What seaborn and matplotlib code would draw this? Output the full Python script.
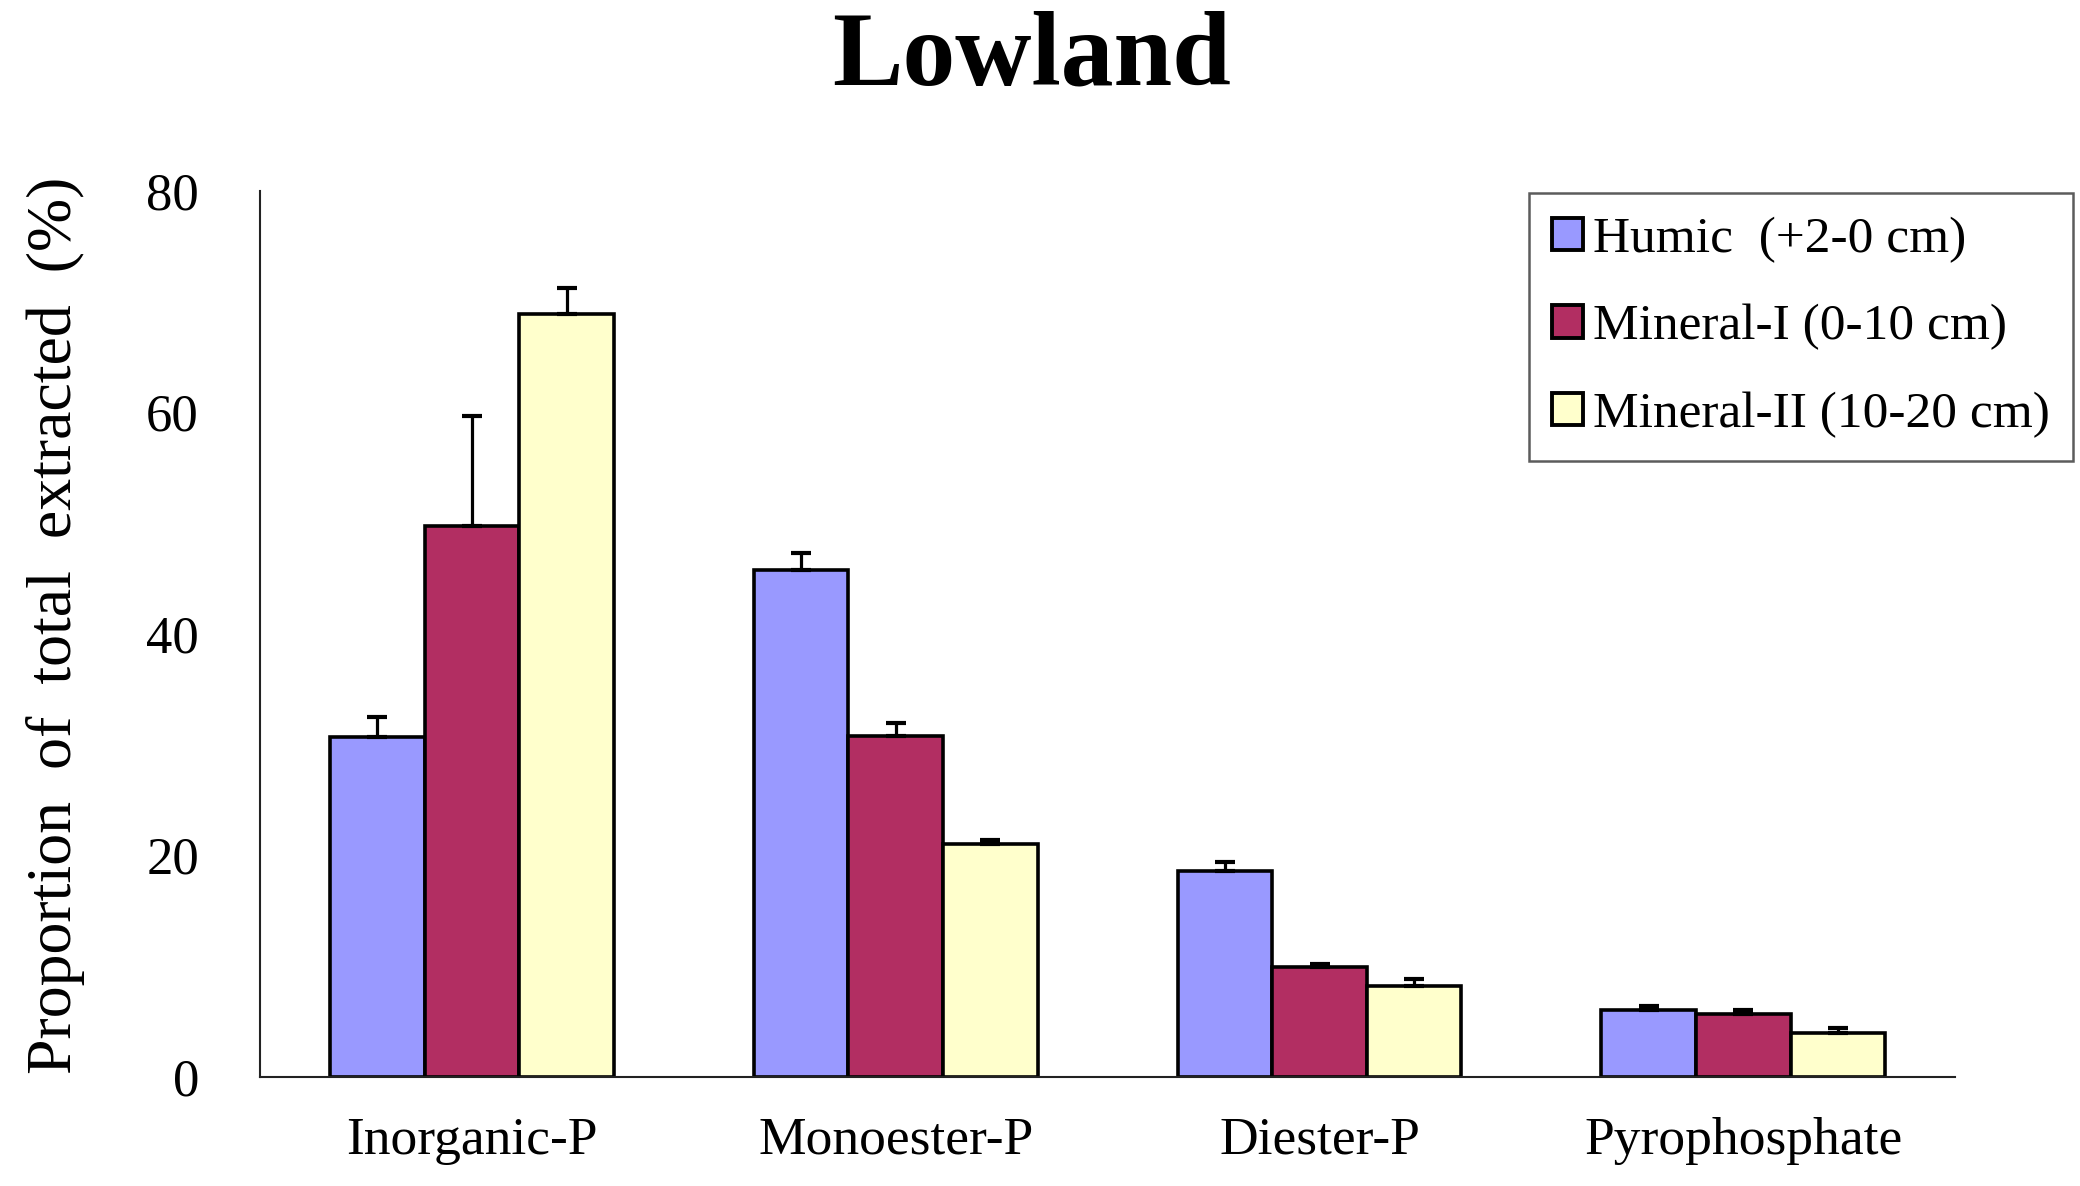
import numpy as np
import seaborn as sns
import matplotlib.pyplot as plt
import pandas as pd
from matplotlib.patches import Patch

categories = ['Inorganic-P', 'Monoester-P', 'Diester-P', 'Pyrophosphate']
layers = ['Humic  (+2-0 cm)', 'Mineral-I (0-10 cm)', 'Mineral-II (10-20 cm)']

humic = [30.7, 45.8, 18.6, 6.0]
humic_err = [1.8, 1.5, 0.8, 0.4]
mineral_1 = [49.7, 30.8, 9.9, 5.65]
mineral_1_err = [10.0, 1.2, 0.3, 0.35]
mineral_2 = [68.9, 21.05, 8.2, 4.0]
mineral_2_err = [2.3, 0.35, 0.6, 0.45]

colors = ['#9999FF', '#B22E62', '#FFFFCC']


def main():
    values = [humic, mineral_1, mineral_2]
    errors = [humic_err, mineral_1_err, mineral_2_err]
    df = pd.DataFrame({
        'category': categories * 3,
        'layer': [l for l in layers for _ in categories],
        'value': [v for vals in values for v in vals],
    })

    sns.set_style('white')
    plt.rcParams['font.family'] = ['Liberation Serif', 'DejaVu Serif']
    plt.rcParams['text.color'] = 'black'
    plt.rcParams['axes.labelcolor'] = 'black'

    fig = plt.figure(figsize=(20.8, 11.86), dpi=100)
    ax = fig.add_axes([0.125, 0.092, 0.815, 0.747])

    sns.barplot(data=df, x='category', y='value', hue='layer', order=categories,
                hue_order=layers, palette=colors, width=0.67, errorbar=None,
                edgecolor='black', linewidth=2.6, saturation=1, ax=ax, legend=False)

    # upper error bars only
    for cont, err in zip(ax.containers, errors):
        xs = [b.get_x() + b.get_width() / 2 for b in cont]
        ys = [b.get_height() for b in cont]
        ax.errorbar(xs, ys, yerr=[np.zeros(len(err)), err], fmt='none',
                    ecolor='black', elinewidth=2.3, capsize=7, capthick=3, zorder=5)

    ax.set_xlim(-0.5, 3.5)
    ax.set_ylim(0, 80)
    ax.set_yticks([0, 20, 40, 60, 80])
    ax.set_xticks([0.5, 1.5, 2.5])
    ax.set_xticklabels([])
    ax.tick_params(axis='both', direction='in', length=15, width=1.5, colors='#222222')
    ax.tick_params(axis='y', labelsize=38, pad=44, labelcolor='black')
    for i, c in enumerate(categories):
        ax.text(i, -3.6, c, ha='center', va='top', fontsize=38.5)

    for s in ['top', 'right']:
        ax.spines[s].set_visible(False)
    for s in ['left', 'bottom']:
        ax.spines[s].set_linewidth(1.5)
        ax.spines[s].set_color('#222222')

    ax.set_xlabel('')
    ax.set_ylabel('Proportion  of  total  extracted  (%)', fontsize=46)
    ax.yaxis.set_label_coords(-0.103, 0.51)

    fig.text(0.496, 0.95, 'Lowland', ha='center', va='center', fontsize=76, fontweight='bold')

    handles = [Patch(facecolor=c, edgecolor='black', linewidth=2.8) for c in colors]
    leg = fig.legend(handles, layers, loc='upper right', bbox_to_anchor=(0.9966, 0.837),
                     fontsize=37, frameon=True, fancybox=False, edgecolor='#333333',
                     handlelength=0.6, handleheight=0.6, handletextpad=0.2,
                     labelspacing=0.8, borderpad=0.45, borderaxespad=0)
    leg.get_frame().set_linewidth(1.8)

    fig.savefig('out.png', dpi=100)


if __name__ == '__main__':
    main()
